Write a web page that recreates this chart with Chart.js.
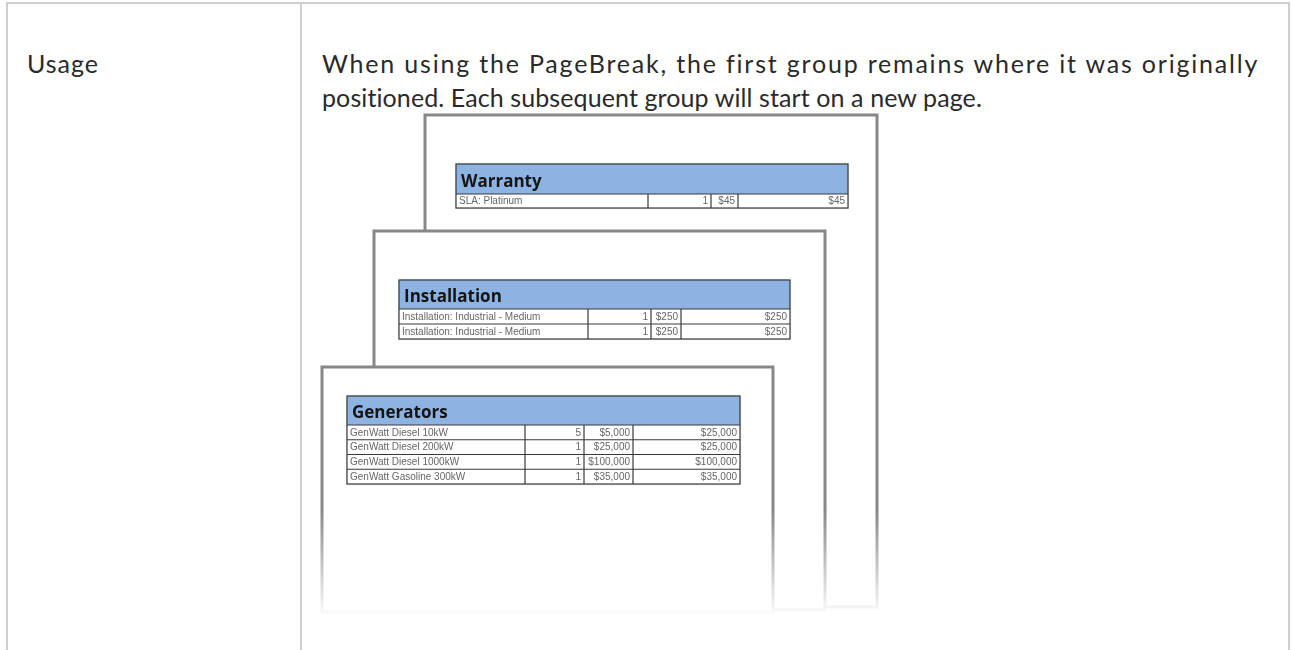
<!DOCTYPE html>
<html>
<head>
<meta charset="utf-8">
<script src="https://cdn.jsdelivr.net/npm/chart.js@4.4.1/dist/chart.umd.min.js"></script>
<style>
  body { margin: 0; background: #fff; width: 1292px; height: 650px; overflow: hidden; position: relative; font-family: Lato, "Open Sans", sans-serif; color: #2a2a2a; }
  .frame { position: absolute; left: 6px; top: 2px; width: 1284px; height: 720px; border: 2px solid #cfcfcf; border-bottom: none; box-sizing: border-box; }
  .divider { position: absolute; left: 300px; top: 2px; width: 2px; height: 720px; background: #cfcfcf; }
  .label { position: absolute; left: 27px; top: 46px; font-size: 25px; line-height: 34px; letter-spacing: 1px; }
  .desc { position: absolute; left: 322px; top: 46px; font-size: 25px; line-height: 34px; white-space: nowrap; }
  .desc .l1 { letter-spacing: 1.8px; }
  .desc .l2 { letter-spacing: 0.1px; }
  #pagesChart { position: absolute; left: 310px; top: 100px; }
</style>
</head>
<body>
<div class="frame"></div>
<div class="divider"></div>
<div class="label">Usage</div>
<div class="desc"><span class="l1">When using the PageBreak, the first group remains where it was originally</span><br><span class="l2">positioned. Each subsequent group will start on a new page.</span></div>
<canvas id="pagesChart" width="600" height="540"></canvas>
<script>
// group tables shown on the three stacked pages (back to front)
const groupTitles = ['Warranty', 'Installation', 'Generators'];

const warrantyItems = ['SLA: Platinum'];
const warrantyQty = [1];
const warrantyPrice = [45];
const warrantyTotal = [45];

const installationItems = ['Installation: Industrial - Medium', 'Installation: Industrial - Medium'];
const installationQty = [1, 1];
const installationPrice = [250, 250];
const installationTotal = [250, 250];

const generatorItems = ['GenWatt Diesel 10kW', 'GenWatt Diesel 200kW', 'GenWatt Diesel 1000kW', 'GenWatt Gasoline 300kW'];
const generatorQty = [5, 1, 1, 1];
const generatorPrice = [5000, 25000, 100000, 35000];
const generatorTotal = [25000, 25000, 100000, 35000];

const groupRows = [
    { items: warrantyItems, qty: warrantyQty, price: warrantyPrice, total: warrantyTotal },
    { items: installationItems, qty: installationQty, price: installationPrice, total: installationTotal },
    { items: generatorItems, qty: generatorQty, price: generatorPrice, total: generatorTotal }
];

// page placement, in scale units (same as screen px here)
const pageLayout = [
    { left: 425, top: 115, right: 877, bottom: 607, table: { left: 456, top: 164, right: 848, head: 30, row: 14, cols: [648, 711, 738] } },
    { left: 374, top: 231, right: 825, bottom: 610, table: { left: 399, top: 280, right: 790, head: 29, row: 15, cols: [588, 651, 681] } },
    { left: 322, top: 367, right: 773, bottom: 612, table: { left: 347, top: 396, right: 740, head: 29, row: 14.75, cols: [525, 584, 633] } }
];

const money = n => '$' + n.toLocaleString('en-US');

function drawTable(ctx, X, Y, t, title, rows) {
    const x0 = X(t.left), x1 = X(t.right);
    const y0 = Y(t.top), yh = Y(t.top + t.head);
    const yEnd = Y(t.top + t.head + t.row * rows.items.length);

    ctx.save();
    ctx.shadowColor = 'rgba(0, 0, 0, 0.35)';
    ctx.shadowBlur = 2;
    ctx.fillStyle = '#fff';
    ctx.fillRect(x0, y0, x1 - x0, yEnd - y0);
    ctx.restore();

    ctx.fillStyle = '#8db3e2';
    ctx.fillRect(x0, y0, x1 - x0, yh - y0);

    ctx.fillStyle = '#151515';
    ctx.font = 'bold 17px "Open Sans", sans-serif';
    ctx.textBaseline = 'alphabetic';
    ctx.textAlign = 'left';
    ctx.fillText(title, x0 + 5, yh - 7);

    ctx.strokeStyle = '#3a3a3a';
    ctx.lineWidth = 1.2;
    ctx.strokeRect(x0, y0, x1 - x0, yEnd - y0);

    const colX = t.cols.map(X);
    rows.items.forEach((item, i) => {
        const ya = Y(t.top + t.head + t.row * i);
        const yb = Y(t.top + t.head + t.row * (i + 1));
        ctx.beginPath();
        ctx.moveTo(x0, ya);
        ctx.lineTo(x1, ya);
        ctx.stroke();

        ctx.fillStyle = '#666';
        ctx.font = '10px "Liberation Sans", sans-serif';
        ctx.textBaseline = 'middle';
        const ym = (ya + yb) / 2 + 0.5;
        ctx.textAlign = 'left';
        ctx.fillText(item, x0 + 3, ym);
        ctx.textAlign = 'right';
        ctx.fillText(String(rows.qty[i]), colX[1] - 3, ym);
        ctx.fillText(money(rows.price[i]), colX[2] - 3, ym);
        ctx.fillText(money(rows.total[i]), x1 - 3, ym);
    });

    ctx.beginPath();
    colX.forEach(cx => {
        ctx.moveTo(cx, yh);
        ctx.lineTo(cx, yEnd);
    });
    ctx.stroke();
}

const pagesPlugin = {
    id: 'pages',
    afterDraw(chart) {
        const ctx = chart.ctx;
        const xs = chart.scales.x, ys = chart.scales.y;
        const X = v => xs.getPixelForValue(v);
        const Y = v => ys.getPixelForValue(v);

        pageLayout.forEach((p, i) => {
            ctx.fillStyle = '#fff';
            ctx.fillRect(X(p.left), Y(p.top), X(p.right) - X(p.left), Y(p.bottom) - Y(p.top));
            ctx.strokeStyle = '#878787';
            ctx.lineWidth = 3;
            ctx.strokeRect(X(p.left), Y(p.top), X(p.right) - X(p.left), Y(p.bottom) - Y(p.top));
            drawTable(ctx, X, Y, p.table, groupTitles[i], groupRows[i]);
        });

        // pages fade out toward the bottom
        const fadeTop = Y(510), fadeEnd = Y(618);
        const grad = ctx.createLinearGradient(0, fadeTop, 0, fadeEnd);
        grad.addColorStop(0, 'rgba(255, 255, 255, 0)');
        grad.addColorStop(1, 'rgba(255, 255, 255, 1)');
        ctx.fillStyle = grad;
        ctx.fillRect(0, fadeTop, chart.width, fadeEnd - fadeTop);
        ctx.fillStyle = '#fff';
        ctx.fillRect(0, fadeEnd, chart.width, chart.height - fadeEnd);
    }
};

new Chart(document.getElementById('pagesChart').getContext('2d'), {
    type: 'scatter',
    data: { datasets: [] },
    options: {
        responsive: false,
        animation: false,
        layout: { padding: 0 },
        plugins: { legend: { display: false }, tooltip: { enabled: false } },
        scales: {
            x: { type: 'linear', min: 310, max: 910, display: false },
            y: { type: 'linear', min: 100, max: 640, reverse: true, display: false }
        }
    },
    plugins: [pagesPlugin]
});
</script>
</body>
</html>
